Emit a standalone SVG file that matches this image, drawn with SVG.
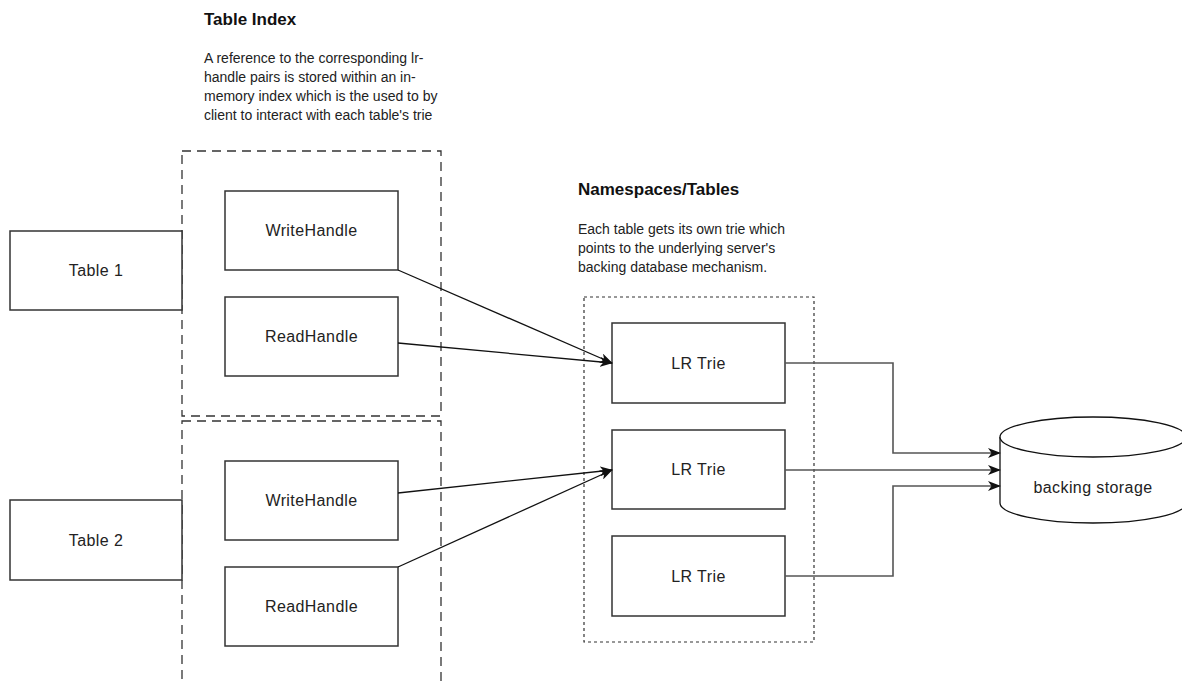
<svg xmlns="http://www.w3.org/2000/svg" width="1182" height="683" viewBox="0 0 1182 683">
  <style>
    .box { fill: #ffffff; stroke: #333333; stroke-width: 1.5; }
    .group { fill: none; stroke: #333333; stroke-width: 1.3; stroke-dasharray: 9 6; }
    .ns { fill: none; stroke: #333333; stroke-width: 1.2; stroke-dasharray: 3 3; }
    .label { font-family: "Liberation Sans", Arial, sans-serif; font-size: 16px; letter-spacing: 0.4px; fill: #222222; text-anchor: middle; }
    .head { font-family: "Liberation Sans", Arial, sans-serif; font-size: 17px; font-weight: bold; fill: #111111; }
    .para { font-family: "Liberation Sans", Arial, sans-serif; font-size: 14px; fill: #222222; }
    .link { fill: none; stroke: #111111; stroke-width: 1.3; }
    .route { fill: none; stroke: #555555; stroke-width: 1.6; }
  </style>
  <defs>
    <marker id="arrow" viewBox="0 0 13 10" refX="12" refY="5" markerWidth="13" markerHeight="10" markerUnits="userSpaceOnUse" orient="auto">
      <path d="M0,0 L13,5 L0,10 L3.5,5 z" fill="#111111"/>
    </marker>
  </defs>

  <rect width="1182" height="683" fill="#ffffff"/>

  <!-- captions -->
  <g id="table-index-caption">
    <text class="head" x="204" y="25">Table Index</text>
    <text class="para" x="204" y="63">A reference to the corresponding lr-</text>
    <text class="para" x="204" y="82">handle pairs is stored within an in-</text>
    <text class="para" x="204" y="101">memory index which is the used to by</text>
    <text class="para" x="204" y="120">client to interact with each table's trie</text>
  </g>
  <g id="namespaces-caption">
    <text class="head" x="578" y="195">Namespaces/Tables</text>
    <text class="para" x="578" y="234">Each table gets its own trie which</text>
    <text class="para" x="578" y="253">points to the underlying server's</text>
    <text class="para" x="578" y="272">backing database mechanism.</text>
  </g>

  <!-- handle groups -->
  <g id="group-1"><rect class="group" x="182" y="151" width="259" height="265"/></g>
  <g id="group-2"><rect class="group" x="182" y="421" width="259" height="290"/></g>
  <g id="namespaces"><rect class="ns" x="584" y="297" width="230" height="345"/></g>

  <!-- tables -->
  <g id="table-1">
    <rect class="box" x="10" y="231" width="172" height="79"/>
    <text class="label" x="96" y="276">Table 1</text>
  </g>
  <g id="table-2">
    <rect class="box" x="10" y="500" width="172" height="80"/>
    <text class="label" x="96" y="546">Table 2</text>
  </g>

  <!-- handles -->
  <g id="write-handle-1">
    <rect class="box" x="225" y="191" width="173" height="79"/>
    <text class="label" x="311.5" y="236">WriteHandle</text>
  </g>
  <g id="read-handle-1">
    <rect class="box" x="225" y="297" width="173" height="79"/>
    <text class="label" x="311.5" y="342">ReadHandle</text>
  </g>
  <g id="write-handle-2">
    <rect class="box" x="225" y="461" width="173" height="79"/>
    <text class="label" x="311.5" y="506">WriteHandle</text>
  </g>
  <g id="read-handle-2">
    <rect class="box" x="225" y="567" width="173" height="79"/>
    <text class="label" x="311.5" y="612">ReadHandle</text>
  </g>

  <!-- tries -->
  <g id="trie-1">
    <rect class="box" x="612" y="323" width="173" height="80"/>
    <text class="label" x="698.5" y="369">LR Trie</text>
  </g>
  <g id="trie-2">
    <rect class="box" x="612" y="430" width="173" height="79"/>
    <text class="label" x="698.5" y="475">LR Trie</text>
  </g>
  <g id="trie-3">
    <rect class="box" x="612" y="536" width="173" height="80"/>
    <text class="label" x="698.5" y="582">LR Trie</text>
  </g>

  <!-- storage -->
  <g id="backing-storage">
    <path d="M1000,437 L1000,503 A93,20 0 0 0 1186,503 L1186,437" fill="#ffffff" stroke="#111111" stroke-width="1.3"/>
    <ellipse cx="1093" cy="437" rx="93" ry="20" fill="#ffffff" stroke="#111111" stroke-width="1.3"/>
    <text class="label" x="1093" y="492.5">backing storage</text>
  </g>

  <!-- connectors -->
  <g id="connectors">
    <path class="link" d="M398,270 L612,363" marker-end="url(#arrow)"/>
    <path class="link" d="M398,343 L612,363" marker-end="url(#arrow)"/>
    <path class="link" d="M398,493 L612,470" marker-end="url(#arrow)"/>
    <path class="link" d="M398,567 L612,470" marker-end="url(#arrow)"/>
    <path class="route" d="M785,363 L893,363 L893,453 L1000,453" marker-end="url(#arrow)"/>
    <path class="route" d="M785,470 L1000,470" marker-end="url(#arrow)"/>
    <path class="route" d="M785,576 L893,576 L893,486 L1000,486" marker-end="url(#arrow)"/>
  </g>
</svg>
